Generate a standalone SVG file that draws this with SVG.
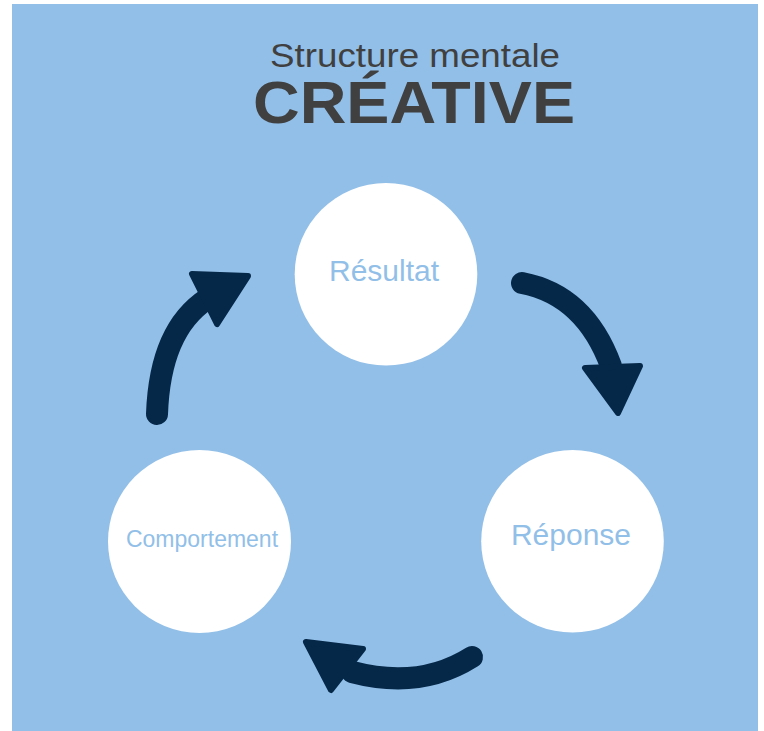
<svg xmlns="http://www.w3.org/2000/svg" width="764" height="731" viewBox="0 0 764 731">
<style>
.bg{fill:#92bfe8}
.node{fill:#ffffff}
.lbl{font-family:"Liberation Sans",Arial,sans-serif;fill:#92bfe8;text-anchor:middle}
.title{font-family:"Liberation Sans",Arial,sans-serif;fill:#404040;text-anchor:middle}
.shaft{fill:none;stroke:#062848;stroke-width:22;stroke-linecap:round}
.head{fill:#062848;stroke:#062848;stroke-width:6;stroke-linejoin:round}
</style>
<rect width="764" height="731" fill="#ffffff"/>
<rect class="bg" x="12" y="4" width="746" height="727"/>
<g id="title">
<text class="title" x="415" y="66.7" font-size="34" textLength="290" lengthAdjust="spacingAndGlyphs">Structure mentale</text>
<text class="title" x="414" y="122.7" font-size="60" font-weight="bold" textLength="322" lengthAdjust="spacingAndGlyphs">CRÉATIVE</text>
</g>
<g id="connectors">
<path class="shaft" d="M157,414 Q160,330 207,299"/>
<polygon class="head" points="192,274 248,276 217,324"/>
<path class="shaft" d="M522,283 Q585,295 611,366"/>
<polygon class="head" points="585,368 640,366 618,413"/>
<path class="shaft" d="M472,657 Q420,690 352,672"/>
<polygon class="head" points="306,642 363,649 331,690"/>
</g>
<g id="node-resultat">
<circle class="node" cx="386" cy="274.3" r="91.3"/>
<text class="lbl" x="384" y="280.7" font-size="30">Résultat</text>
</g>
<g id="node-reponse">
<circle class="node" cx="572.5" cy="541.3" r="91.3"/>
<text class="lbl" x="571" y="545.3" font-size="30">Réponse</text>
</g>
<g id="node-comportement">
<circle class="node" cx="199.5" cy="541.5" r="91.5"/>
<text class="lbl" x="202" y="546.5" font-size="23">Comportement</text>
</g>
</svg>
